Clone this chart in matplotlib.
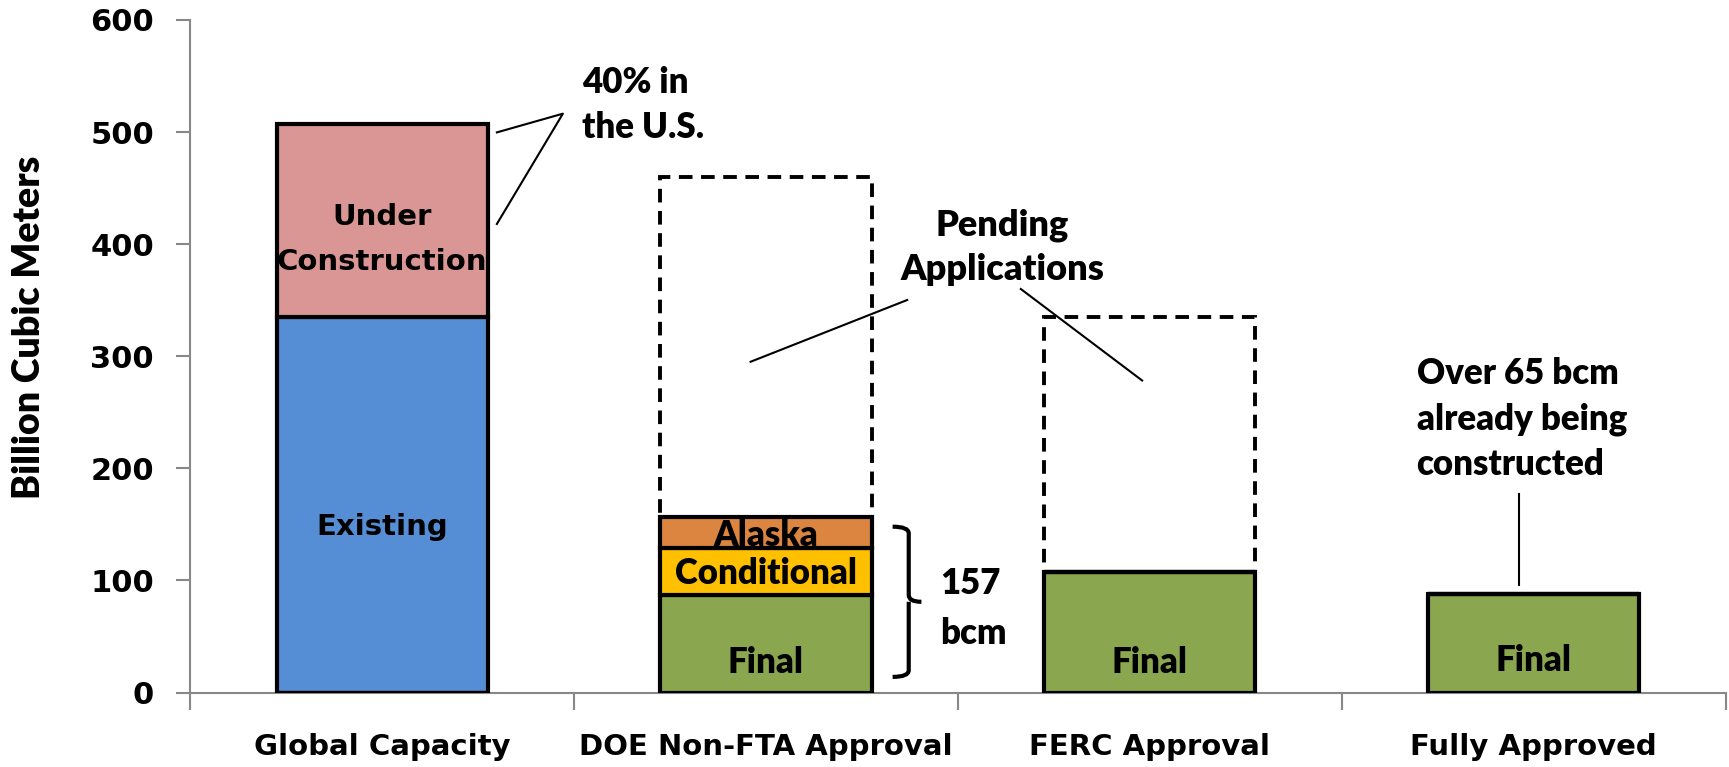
import numpy as np
import matplotlib.pyplot as plt
from matplotlib.path import Path
from matplotlib.patches import PathPatch

categories = ["Global Capacity", "DOE Non-FTA Approval", "FERC Approval", "Fully Approved"]
existing = [335, 0, 0, 0]
under_construction = [172, 0, 0, 0]
final = [0, 87.5, 108, 88]
conditional = [0, 41.5, 0, 0]
alaska = [0, 28, 0, 0]
pending = [0, 303, 227, 0]
y_ticks = [0, 100, 200, 300, 400, 500, 600]

NARROW = ["Lato", "DejaVu Sans"]
WIDE = ["DejaVu Sans"]
NW = "heavy"

fig = plt.figure(figsize=(17.29, 7.67), dpi=100)
ax = fig.add_axes([0.110, 0.097, 0.888, 0.877])

x = np.arange(len(categories))
w = 0.55
kw = dict(width=w, edgecolor="black", linewidth=3, zorder=3)

ax.bar(x, existing, color="#558ED5", **kw)
ax.bar(x, under_construction, bottom=existing, color="#D99694", **kw)
ax.bar(x[1:], final[1:], color="#8AA64E", **kw)
b2 = np.array(final)
ax.bar(x, conditional, bottom=b2, color="#FFC000", **kw)
b3 = b2 + np.array(conditional)
ax.bar(x, alaska, bottom=b3, color="#DB8540", **kw)
b4 = b3 + np.array(alaska)
ax.bar(x, pending, bottom=b4, color="none", edgecolor="black", linewidth=2.8,
       linestyle=(0, (3.5, 2.2)), width=w, zorder=4)

ax.set_xlim(-0.5, 3.5)
ax.set_ylim(0, 600)
ax.set_yticks(y_ticks)
ax.set_yticklabels([str(t) for t in y_ticks], fontsize=22, fontweight="bold", family=WIDE)
ax.set_xticks(x)
ax.set_xticklabels(categories, fontsize=21, fontweight="bold", family=WIDE)
ax.tick_params(axis="x", length=0, pad=29)
ax.set_xticks(np.arange(-0.5, 4.0, 1.0), minor=True)
ax.tick_params(axis="x", which="minor", length=12, width=1.5, color="#888888", direction="out")
ax.tick_params(axis="y", length=10, width=1.5, color="#888888", pad=16)
for s in ["top", "right"]:
    ax.spines[s].set_visible(False)
for s in ["left", "bottom"]:
    ax.spines[s].set_color("#888888")
    ax.spines[s].set_linewidth(1.5)
ax.set_ylabel("Billion Cubic Meters", fontsize=27, fontweight=NW, family=NARROW)
ax.yaxis.set_label_coords(-0.094, 0.543)

# labels inside bars
ax.text(0, 404, "Under\nConstruction", ha="center", va="center", fontsize=21,
        fontweight="bold", family=WIDE, linespacing=1.75, zorder=5)
ax.text(0, 148, "Existing", ha="center", va="center", fontsize=21,
        fontweight="bold", family=WIDE, zorder=5)
ax.text(1, 140, "Alaska", ha="center", va="center", fontsize=25,
        fontweight=NW, family=NARROW, zorder=3.5)
ax.text(1, 106, "Conditional", ha="center", va="center", fontsize=25,
        fontweight=NW, family=NARROW, zorder=5)
for i, yy in [(1, 27), (2, 27), (3, 29)]:
    ax.text(i, yy, "Final", ha="center", va="center", fontsize=25,
            fontweight=NW, family=NARROW, zorder=5)

# annotations
ann = dict(fontsize=25, fontweight=NW, family=NARROW, zorder=6)
line = dict(color="black", linewidth=1.5, zorder=6)
ax.text(0.52, 524, "40% in\nthe U.S.", ha="left", va="center", linespacing=1.45, **ann)
ax.plot([0.299, 0.471, 0.299], [499.7, 516.4, 418], **line)

ax.text(1.615, 397, "Pending\nApplications", ha="center", va="center", linespacing=1.4,
        fontsize=26, fontweight=NW, family=NARROW, zorder=6)
ax.plot([0.960, 1.368], [295.1, 350.2], **line)
ax.plot([1.664, 1.980], [360, 278.4], **line)

ax.text(2.695, 244, "Over 65 bcm\nalready being\nconstructed", ha="left", va="center",
        linespacing=1.45, **ann)
ax.plot([2.963, 2.963], [96.4, 177], **line)

# bracket for 157 bcm
xl, xm, xt = 1.33, 1.372, 1.405
top, bot, mid = 148, 14, 81
verts = [(xl, top), (xm, top), (xm, top - 6), (xm, mid + 6), (xm, mid), (xt, mid),
         (xm, mid), (xm, mid - 6), (xm, bot + 6), (xm, bot), (xl, bot)]
codes = [Path.MOVETO, Path.CURVE3, Path.CURVE3, Path.LINETO, Path.CURVE3, Path.LINETO,
         Path.MOVETO, Path.CURVE3, Path.LINETO, Path.CURVE3, Path.CURVE3]
ax.add_patch(PathPatch(Path(verts, codes), facecolor="none", edgecolor="black",
                       linewidth=3, zorder=6, clip_on=False))
ax.text(1.454, 75, "157\nbcm", ha="left", va="center", linespacing=1.6, **ann)

fig.savefig("out.png", dpi=100)
